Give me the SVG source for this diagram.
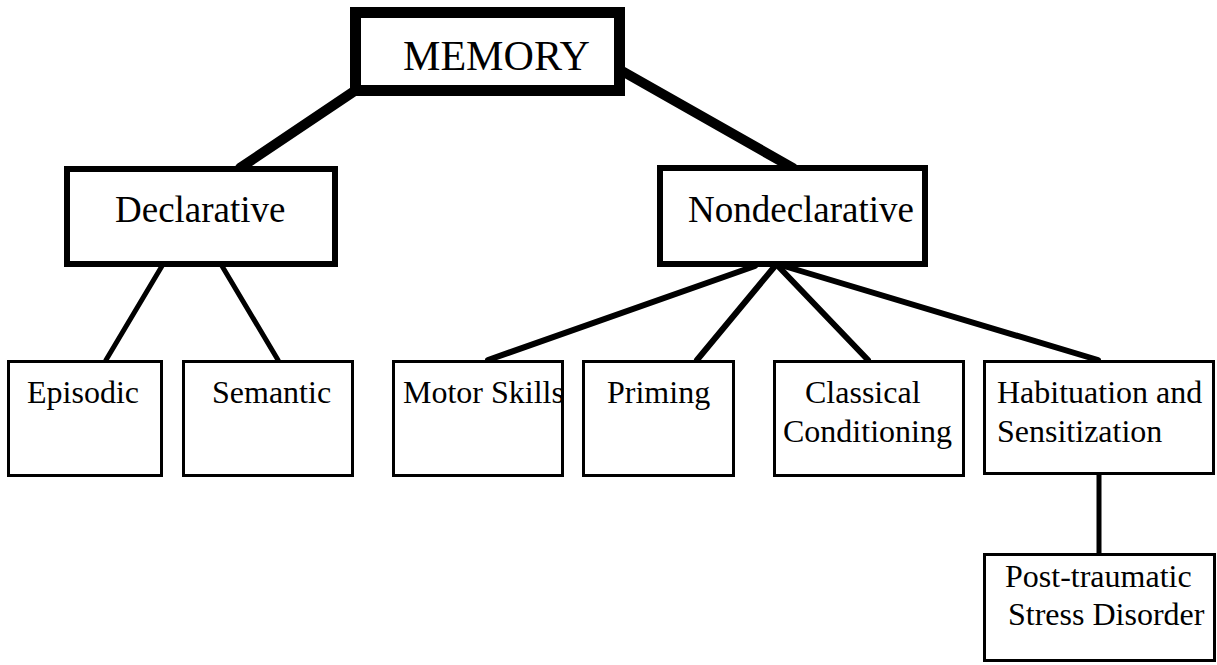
<svg xmlns="http://www.w3.org/2000/svg" width="1217" height="665" viewBox="0 0 1217 665">
<style>
text{font-family:"Liberation Serif","Times New Roman",serif;fill:#000}
.t32{font-size:32px}
.t37{font-size:37px}
.box{fill:#fff;stroke:#000}
.leaf{stroke-width:3}
.mid{stroke-width:6}
.top{stroke-width:11}
.con{stroke:#000;fill:none;stroke-linecap:round}
</style>
<rect width="1217" height="665" fill="#fff"/>
<g id="connectors">
<line class="con" x1="356" y1="90" x2="240" y2="168" stroke-width="10"/>
<line class="con" x1="622" y1="71" x2="793" y2="168" stroke-width="10"/>
<line class="con" x1="162" y1="266" x2="106" y2="360" stroke-width="5"/>
<line class="con" x1="222" y1="266" x2="278" y2="360" stroke-width="5"/>
<line class="con" x1="755" y1="266" x2="488" y2="360" stroke-width="6"/>
<line class="con" x1="775" y1="266" x2="697" y2="360" stroke-width="6"/>
<line class="con" x1="778" y1="266" x2="868" y2="360" stroke-width="6"/>
<line class="con" x1="784" y1="266" x2="1098" y2="360" stroke-width="6"/>
<line class="con" x1="1099" y1="475" x2="1099" y2="553" stroke-width="5"/>
</g>
<g id="memory">
<rect class="box top" x="355.5" y="12.5" width="264" height="78"/>
<text x="403" y="70" style="font-size:42px" textLength="187" lengthAdjust="spacingAndGlyphs">MEMORY</text>
</g>
<g id="declarative">
<rect class="box mid" x="67" y="169" width="268" height="95"/>
<text class="t37" x="115" y="222">Declarative</text>
</g>
<g id="nondeclarative">
<rect class="box mid" x="660" y="168" width="265" height="96"/>
<text class="t37" x="688" y="222">Nondeclarative</text>
</g>
<g id="episodic">
<rect class="box leaf" x="8.5" y="361.5" width="153" height="114"/>
<text class="t32" x="27" y="403">Episodic</text>
</g>
<g id="semantic">
<rect class="box leaf" x="183.5" y="361.5" width="169" height="114"/>
<text class="t32" x="212" y="403">Semantic</text>
</g>
<g id="motor-skills">
<rect class="box leaf" x="393.5" y="361.5" width="169" height="114"/>
<text class="t32" x="403" y="403">Motor Skills</text>
</g>
<g id="priming">
<rect class="box leaf" x="583.5" y="361.5" width="150" height="114"/>
<text class="t32" x="607" y="403">Priming</text>
</g>
<g id="classical-conditioning">
<rect class="box leaf" x="774.5" y="361.5" width="189" height="114"/>
<text class="t32" x="805" y="403">Classical</text>
<text class="t32" x="783" y="442">Conditioning</text>
</g>
<g id="habituation">
<rect class="box leaf" x="984.5" y="361.5" width="229" height="112"/>
<text class="t32" x="997" y="403">Habituation and</text>
<text class="t32" x="997" y="442">Sensitization</text>
</g>
<g id="ptsd">
<rect class="box leaf" x="984.5" y="554.5" width="230" height="106"/>
<text class="t32" x="1005" y="587">Post-traumatic</text>
<text class="t32" x="1008" y="625">Stress Disorder</text>
</g>
</svg>
